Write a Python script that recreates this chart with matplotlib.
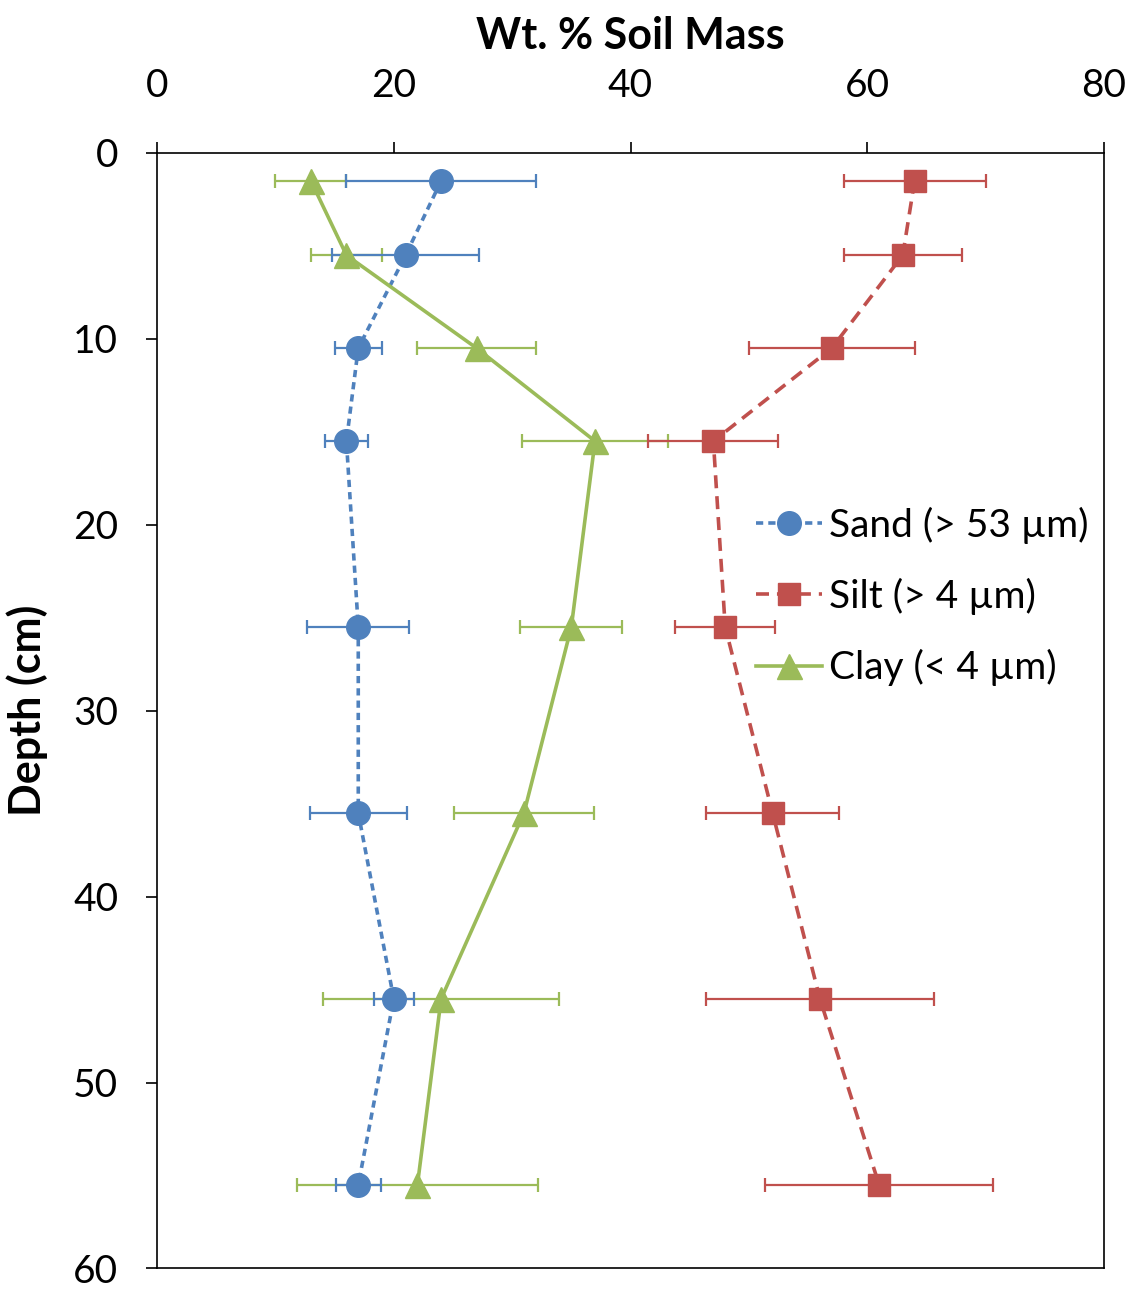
import matplotlib.pyplot as plt

plt.rcParams['font.family'] = ['Lato', 'DejaVu Sans']

# DATA
depth = [1.5, 5.5, 10.5, 15.5, 25.5, 35.5, 45.5, 55.5]

sand = [24, 21, 17, 16, 17, 17, 20, 17]
sand_err = [8, 6.2, 2, 1.8, 4.3, 4.1, 1.7, 1.9]

silt = [64, 63, 57, 47, 48, 52, 56, 61]
silt_err = [6, 5, 7, 5.5, 4.2, 5.6, 9.6, 9.6]

clay = [13, 16, 27, 37, 35, 31, 24, 22]
clay_err = [3, 3, 5, 6.2, 4.3, 5.9, 10, 10.2]

labels = ["Sand (> 53 \u00b5m)", "Silt (> 4 \u00b5m)", "Clay (< 4 \u00b5m)"]

BLUE = "#4F81BD"
RED = "#C0504D"
GREEN = "#9BBB59"

fig = plt.figure(figsize=(11.33, 12.93), dpi=100)
ax = fig.add_axes([0.1386, 0.019, 0.8358, 0.8627])

# error bars first
for vals, errs, col in [(clay, clay_err, GREEN), (sand, sand_err, BLUE), (silt, silt_err, RED)]:
    ax.errorbar(vals, depth, xerr=errs, fmt="none", ecolor=col, elinewidth=1.6,
                capsize=5, capthick=1.6, zorder=2)

ax.plot(sand, depth, linestyle=(0, (2, 1.4)), color=BLUE, lw=2.6, marker="o",
        markersize=17, label=labels[0], zorder=3)
ax.plot(silt, depth, linestyle=(0, (3.6, 2.2)), color=RED, lw=2.6, marker="s",
        markersize=16, label=labels[1], zorder=3)
ax.plot(clay, depth, linestyle="-", color=GREEN, lw=2.6, marker="^",
        markersize=18, label=labels[2], zorder=4)

ax.set_xlim(0, 80)
ax.set_ylim(60, 0)
ax.set_xticks(range(0, 81, 20))
ax.set_yticks(range(0, 61, 10))
ax.xaxis.tick_top()
ax.xaxis.set_label_position("top")
ax.tick_params(axis="both", labelsize=28, length=8, width=1.2, direction="out")
ax.tick_params(axis="x", pad=27)
ax.tick_params(axis="y", pad=20)
ax.set_xlabel("Wt. % Soil Mass", fontsize=31, fontweight="bold", labelpad=14)
ax.set_ylabel("Depth (cm)", fontsize=31, fontweight="bold", labelpad=18)
for s in ax.spines.values():
    s.set_linewidth(1.2)

ax.legend(loc="upper left", bbox_to_anchor=(0.632, 0.683), frameon=False,
          fontsize=28, handlelength=1.7, handletextpad=0.2, labelspacing=0.88,
          borderaxespad=0, borderpad=0)

fig.savefig("out.png", dpi=100)
